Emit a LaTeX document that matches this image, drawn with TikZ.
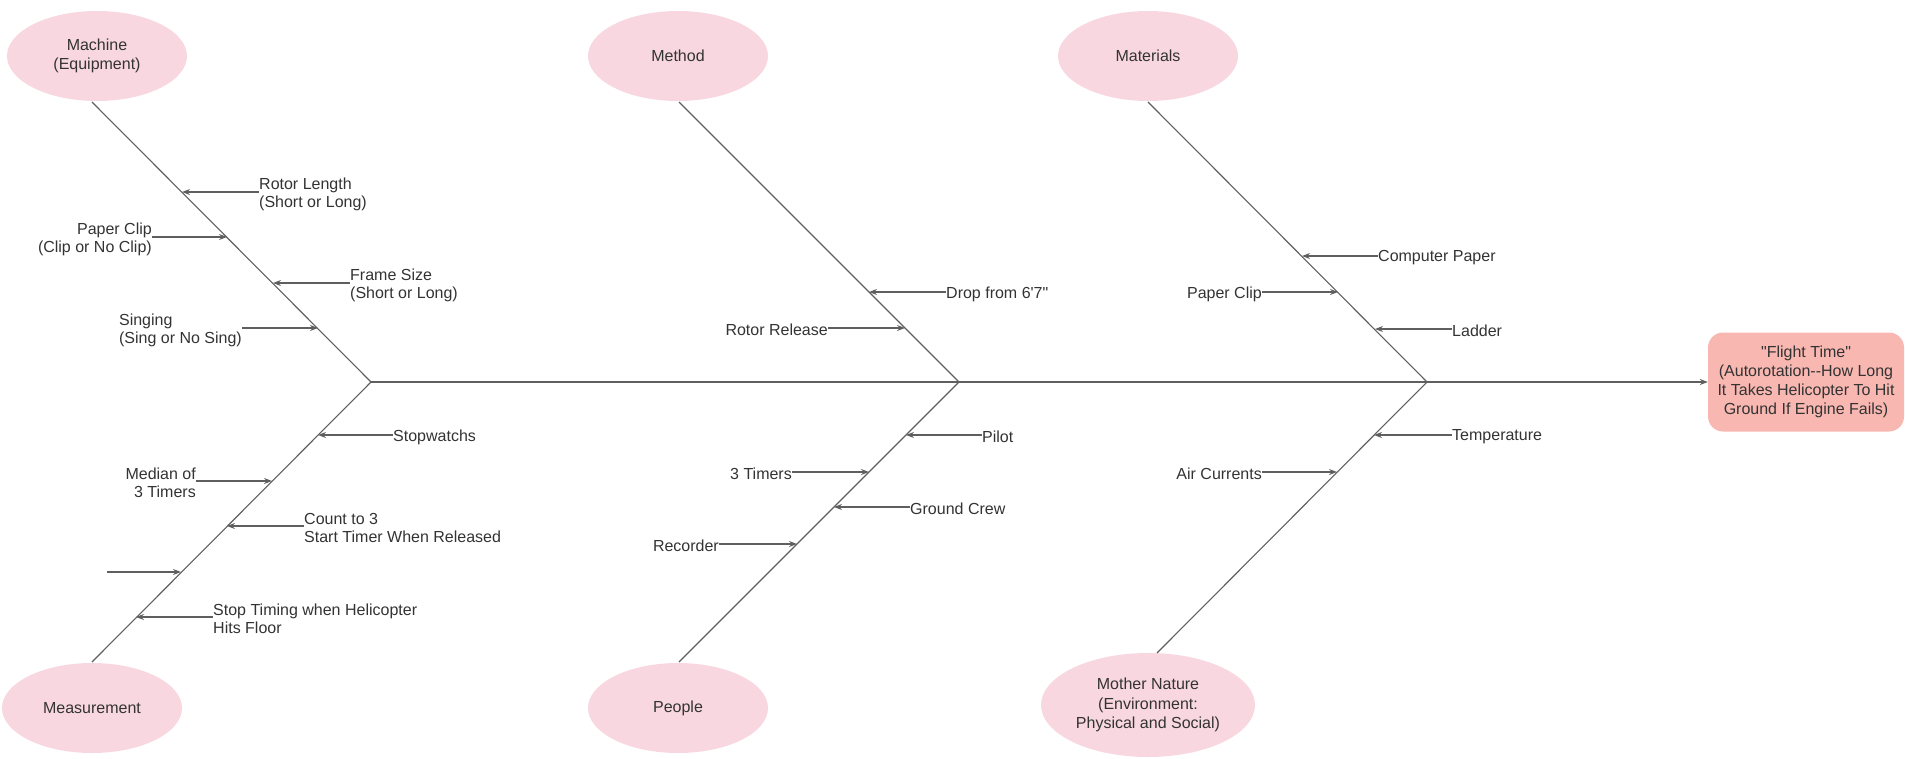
\documentclass[tikz,border=0pt]{standalone}
\usepackage{fontspec}
\setmainfont{Liberation Sans}[Ligatures=TeXOff]
\usetikzlibrary{shapes.geometric,arrows.meta}
\definecolor{causepink}{RGB}{248,215,225}
\definecolor{effectred}{RGB}{249,183,177}
\definecolor{bonegray}{RGB}{95,95,95}
\definecolor{textgray}{RGB}{51,51,51}
\begin{document}
\begin{tikzpicture}[x=1pt, y=-1pt,
        font=\fontsize{16}{18}\selectfont, text=textgray,
        cause/.style={ellipse, fill=causepink, minimum width=180pt, minimum height=90pt, align=center, inner sep=0pt, font=\fontsize{16}{19.5}\selectfont},
        effect/.style={rounded corners=15pt, fill=effectred, minimum width=196pt, minimum height=99pt, align=center, inner sep=0pt, font=\fontsize{16}{19}\selectfont},
        bone/.style={bonegray, line width=1.1pt},
        rib/.style={bonegray, line width=1.1pt, -{Stealth[length=8pt,width=6pt]}},
        lbl/.style={inner sep=0pt, yshift=-2pt}]
        \useasboundingbox (0,0) rectangle (1905,758);

        % Spine
        \coordinate (j1) at (371,382);
        \coordinate (j2) at (959,382);
        \coordinate (j3) at (1427,382);
        \node[effect] (flight) at (1806,382) {"Flight Time"\\(Autorotation--How Long\\It Takes Helicopter To Hit\\Ground If Engine Fails)};
        \draw[rib] (j1) -- (flight);

        % Cause heads
        \node[cause] (machine) at (97,56) {Machine\\(Equipment)};
        \node[cause] (method) at (678,56) {Method};
        \node[cause] (materials) at (1148,56) {Materials};
        \node[cause] (measurement) at (92,708) {Measurement};
        \node[cause] (people) at (678,708) {People};
        \node[cause, minimum width=214pt, minimum height=104pt] (nature) at (1148,705) {Mother Nature\\(Environment:\\Physical and Social)};

        % Bones
        \coordinate (machineend) at (92,102);
        \coordinate (methodend) at (679,102);
        \coordinate (materialsend) at (1148,102);
        \coordinate (measurementend) at (92,662);
        \coordinate (peopleend) at (679,662);
        \coordinate (natureend) at (1157,653);
        \draw[bone] (j1) -- (machineend);
        \draw[bone] (j1) -- (measurementend);
        \draw[bone] (j2) -- (methodend);
        \draw[bone] (j2) -- (peopleend);
        \draw[bone] (j3) -- (materialsend);
        \draw[bone] (j3) -- (natureend);

        % Machine ribs
        \node[lbl, anchor=west, align=left] (rotorlen) at (259,192) {Rotor Length\\(Short or Long)};
        \coordinate (rotorlentip) at (182,192);
        \draw[rib] (rotorlen.west |- rotorlentip) -- (rotorlentip);
        \node[lbl, anchor=east, align=right] (clipa) at (152,237) {Paper Clip\\(Clip or No Clip)};
        \coordinate (clipatip) at (227,237);
        \draw[rib] (clipa.east |- clipatip) -- (clipatip);
        \node[lbl, anchor=west, align=left] (frame) at (350,283) {Frame Size\\(Short or Long)};
        \coordinate (frametip) at (273,283);
        \draw[rib] (frame.west |- frametip) -- (frametip);
        \node[lbl, anchor=east, align=left] (singing) at (242,328) {Singing\\(Sing or No Sing)};
        \coordinate (singingtip) at (318,328);
        \draw[rib] (singing.east |- singingtip) -- (singingtip);

        % Measurement ribs
        \node[lbl, anchor=west] (stopw) at (393,435) {Stopwatchs};
        \coordinate (stopwtip) at (318,435);
        \draw[rib] (stopw.west |- stopwtip) -- (stopwtip);
        \node[lbl, anchor=east, align=right] (median) at (196,481) {Median of\\3 Timers};
        \coordinate (mediantip) at (272,481);
        \draw[rib] (median.east |- mediantip) -- (mediantip);
        \node[lbl, anchor=west, align=left] (count) at (304,526) {Count to 3\\Start Timer When Released};
        \coordinate (counttip) at (227,526);
        \draw[rib] (count.west |- counttip) -- (counttip);
        \coordinate (blankstart) at (107,572);
        \coordinate (blanktip) at (181,572);
        \draw[rib] (blankstart) -- (blanktip);
        \node[lbl, anchor=west, align=left] (stoptime) at (213,617) {Stop Timing when Helicopter\\Hits Floor};
        \coordinate (stoptimetip) at (136,617);
        \draw[rib] (stoptime.west |- stoptimetip) -- (stoptimetip);

        % Method ribs
        \node[lbl, anchor=west] (drop) at (946,292) {Drop from 6'7"};
        \coordinate (droptip) at (869,292);
        \draw[rib] (drop.west |- droptip) -- (droptip);
        \node[lbl, anchor=east] (release) at (828,328) {Rotor Release};
        \coordinate (releasetip) at (905,328);
        \draw[rib] (release.east |- releasetip) -- (releasetip);

        % People ribs
        \node[lbl, anchor=west] (pilot) at (982,435) {Pilot};
        \coordinate (pilottip) at (906,435);
        \draw[rib] (pilot.west |- pilottip) -- (pilottip);
        \node[lbl, anchor=east] (timers) at (792,472) {3 Timers};
        \coordinate (timerstip) at (869,472);
        \draw[rib] (timers.east |- timerstip) -- (timerstip);
        \node[lbl, anchor=west] (crew) at (910,507) {Ground Crew};
        \coordinate (crewtip) at (834,507);
        \draw[rib] (crew.west |- crewtip) -- (crewtip);
        \node[lbl, anchor=east] (recorder) at (719,544) {Recorder};
        \coordinate (recordertip) at (797,544);
        \draw[rib] (recorder.east |- recordertip) -- (recordertip);

        % Materials ribs
        \node[lbl, anchor=west] (paper) at (1378,256) {Computer Paper};
        \coordinate (papertip) at (1302,256);
        \draw[rib] (paper.west |- papertip) -- (papertip);
        \node[lbl, anchor=east] (clipb) at (1262,292) {Paper Clip};
        \coordinate (clipbtip) at (1338,292);
        \draw[rib] (clipb.east |- clipbtip) -- (clipbtip);
        \node[lbl, anchor=west] (ladder) at (1452,329) {Ladder};
        \coordinate (laddertip) at (1375,329);
        \draw[rib] (ladder.west |- laddertip) -- (laddertip);

        % Mother Nature ribs
        \node[lbl, anchor=west] (temp) at (1452,435) {Temperature};
        \coordinate (temptip) at (1374,435);
        \draw[rib] (temp.west |- temptip) -- (temptip);
        \node[lbl, anchor=east] (air) at (1262,472) {Air Currents};
        \coordinate (airtip) at (1337,472);
        \draw[rib] (air.east |- airtip) -- (airtip);
    \end{tikzpicture}
\end{document}
